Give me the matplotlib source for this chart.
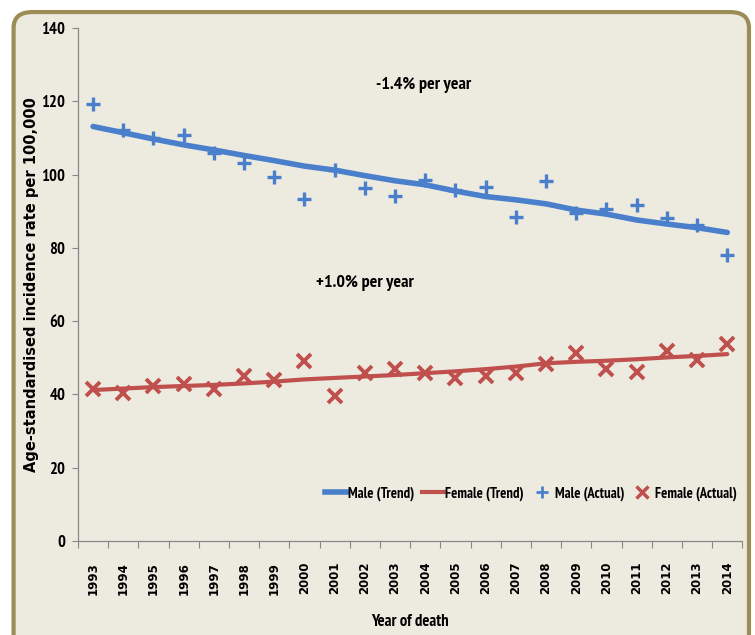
import matplotlib
matplotlib.use("Agg")
import matplotlib.pyplot as plt
from matplotlib.patches import FancyBboxPatch
from matplotlib.lines import Line2D
from matplotlib.ticker import FixedLocator, NullFormatter

years = list(range(1993, 2015))
male_actual = [119.2, 112.2, 110.1, 110.8, 106.0, 103.1, 99.4, 93.3, 101.3, 96.3, 94.2,
               98.5, 95.8, 96.5, 88.5, 98.3, 89.4, 90.6, 91.7, 88.2, 86.2, 78.1]
male_trend = [113.1, 111.4, 109.7, 108.1, 106.7, 105.2, 103.8, 102.3, 101.2, 99.7, 98.3,
              97.2, 95.5, 94.0, 93.1, 92.0, 90.3, 89.2, 87.6, 86.5, 85.5, 84.2]
female_actual = [41.4, 40.3, 42.3, 42.8, 41.4, 45.0, 43.9, 49.1, 39.6, 45.8, 46.9,
                 45.8, 44.4, 45.0, 45.9, 48.2, 51.2, 46.9, 46.2, 51.9, 49.4, 53.7]
female_trend = [41.2, 41.6, 42.0, 42.3, 42.6, 43.0, 43.5, 44.1, 44.5, 44.9, 45.3,
                45.8, 46.3, 46.9, 47.6, 48.5, 48.9, 49.2, 49.6, 50.1, 50.5, 51.0]
yticks = [0, 20, 40, 60, 80, 100, 120, 140]

BLUE = "#4A7FCB"
RED = "#C0504D"
BG = "#EDEBE0"
NARROW = ["PT Sans Narrow", "DejaVu Sans"]

fig = plt.figure(figsize=(7.55, 6.35), dpi=100)
fig.patch.set_facecolor("white")

frame = FancyBboxPatch((0.030, -0.05), 0.950, 1.019,
                       boxstyle="round,pad=0.012,rounding_size=0.025",
                       transform=fig.transFigure, facecolor=BG,
                       edgecolor="#9C8D56", linewidth=3, zorder=-10)
fig.patches.append(frame)

ax = fig.add_axes([0.1033, 0.148, 0.880, 0.808])
ax.set_zorder(5)
ax.set_facecolor("none")

ax.plot(years, male_trend, color=BLUE, lw=4.0, solid_capstyle="round", zorder=3)
ax.plot(years, female_trend, color=RED, lw=3.0, solid_capstyle="round", zorder=3)
ax.plot(years, male_actual, ls="none", marker="+", ms=10, mew=2.4, color=BLUE, zorder=4)
ax.plot(years, female_actual, ls="none", marker="x", ms=10, mew=2.8, color=RED, zorder=4)

ax.set_xlim(1992.5, 2014.5)
ax.set_ylim(0, 140)

ax.set_yticks(yticks)
ax.set_yticklabels([str(v) for v in yticks], family=NARROW, fontweight="bold", fontsize=12)
ax.tick_params(axis="y", direction="out", length=4, color="#888888", pad=5)

ax.xaxis.set_major_locator(FixedLocator([y - 0.5 for y in years] + [2014.5]))
ax.xaxis.set_major_formatter(NullFormatter())
ax.set_xticks(years, minor=True)
ax.set_xticklabels([str(y) for y in years], minor=True, rotation=90,
                   fontweight="bold", fontsize=8.5, family="DejaVu Sans")
ax.tick_params(axis="x", which="major", direction="out", length=5, color="#888888")
ax.tick_params(axis="x", which="minor", length=0, pad=15)

for s in ["top", "right"]:
    ax.spines[s].set_visible(False)
for s in ["left", "bottom"]:
    ax.spines[s].set_color("#888888")
    ax.spines[s].set_linewidth(0.9)

ax.set_ylabel("Age-standardised incidence rate per 100,000", fontweight="bold",
              fontsize=10.5, family="DejaVu Sans")
ax.yaxis.set_label_coords(-0.058, 0.5)
ax.set_xlabel("Year of death", family=NARROW, fontweight="bold", fontsize=12)
ax.xaxis.set_label_coords(0.5, -0.143)

ax.text(2003.95, 124.5, "-1.4% per year", ha="center", va="center",
        family=NARROW, fontweight="bold", fontsize=13)
ax.text(2002.0, 70.4, "+1.0% per year", ha="center", va="center",
        family=NARROW, fontweight="bold", fontsize=13)

handles = [Line2D([], [], color=BLUE, lw=4),
           Line2D([], [], color=RED, lw=3),
           Line2D([], [], ls="none", marker="+", ms=8, mew=2, color=BLUE),
           Line2D([], [], ls="none", marker="x", ms=8, mew=2.5, color=RED)]
labels = ["Male (Trend)", "Female (Trend)", "Male (Actual)", "Female (Actual)"]
ax.legend(handles, labels, loc="center right", bbox_to_anchor=(1.0, 0.093),
          ncol=4, frameon=False, handlelength=1.5, handletextpad=0.1,
          columnspacing=0.5, borderaxespad=0,
          prop={"family": NARROW, "weight": "bold", "size": 10.5})

fig.savefig("out.png", dpi=100, facecolor=fig.get_facecolor())
